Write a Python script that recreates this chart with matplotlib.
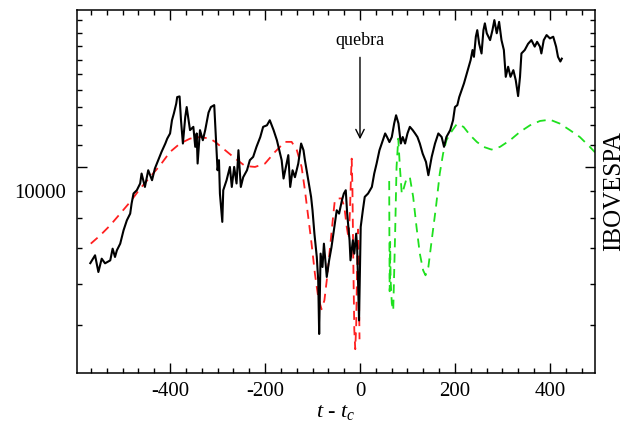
import matplotlib
matplotlib.use("Agg")
import matplotlib.pyplot as plt
import matplotlib.ticker as mticker
import matplotlib.transforms as mtransforms

plt.rcParams['font.family'] = ['Liberation Serif', 'DejaVu Serif']
plt.rcParams['mathtext.fontset'] = 'custom'
plt.rcParams['mathtext.rm'] = 'Liberation Serif'
plt.rcParams['mathtext.it'] = 'Liberation Serif:italic'

# IBOVESPA index vs t - tc
t_ibov = [-568, -558, -551, -544, -537, -526, -521, -516, -512, -505, -498, -491, -484, -481,
          -477, -470, -463, -460, -453, -446, -438, -432, -425, -418, -410, -406, -400, -396,
          -392, -387, -385, -380, -377, -373, -368, -365, -358, -351, -347, -344, -342, -337,
          -331, -326, -319, -314, -307, -304, -300, -297, -295, -290, -288, -281, -274, -270,
          -265, -260, -256, -251, -246, -238, -232, -225, -218, -210, -204, -196, -190, -182,
          -175, -170, -165, -161, -156, -151, -147, -142, -137, -130, -124, -119, -116, -109,
          -103, -100, -96, -91, -88, -86, -83, -79, -76, -70, -65, -60, -55, -49, -44, -38,
          -34, -30, -27, -22, -20, -15, -12, -8, -6, -2, 1.5, 6, 10, 17, 25, 30, 35, 41, 48,
          53, 57, 62, 67, 72, 76, 81, 86, 90, 95, 100, 105, 111, 116, 121, 126, 132, 139, 144,
          151, 158, 165, 172, 177, 182, 190, 196, 200, 205, 209, 214, 219, 223, 228, 233, 237,
          240, 244, 247, 251, 256, 260, 263, 267, 274, 279, 283, 288, 293, 298, 303, 307, 312,
          317, 323, 328, 333, 337, 340, 347, 354, 361, 368, 373, 379, 382, 387, 393, 400, 407,
          413, 417, 422, 425]
v_ibov = [6560, 6790, 6310, 6690, 6555, 6640, 6990, 6740, 6940, 7145, 7575, 7915, 8150, 8520,
          8900, 9030, 9300, 9715, 9160, 9856, 9434, 9930, 10300, 10680, 11080, 11320, 11580, 12270,
          12640, 13200, 13580, 13620, 12270, 11080, 12450, 13000, 11750, 11920, 10920, 11580, 10150, 11750,
          11240, 11750, 12690, 13000, 13110, 11580, 9856, 10300, 8890, 7860, 9030, 9434, 10000, 9160,
          10000, 9300, 10760, 9160, 9560, 9856, 10300, 10450, 10920, 11400, 11920, 12000, 12270, 11750,
          11240, 10760, 10300, 9505, 10000, 10530, 9160, 9856, 9560, 10150, 11080, 10760, 10300, 9434,
          8770, 8270, 7465, 6740, 6084, 4810, 6840, 6450, 7145, 6175, 6642, 7040, 7575, 8270, 8150, 8642,
          8900, 9030, 8150, 7251, 6642, 7251, 6840, 7465, 7040, 5104, 7690, 8270, 8770, 8900, 9160, 9715,
          10150, 10760, 11240,
          11580, 11400, 11150, 11400, 12100, 12540, 12100, 11080, 11400, 11080, 11580, 11920, 11750, 11580,
          11400, 11080, 10600, 10220, 9643,
          10450, 11080, 11580, 11400, 10920, 11400, 11750, 12270, 13000, 13110, 13580, 14000, 14420, 14840,
          15380, 15970, 16690,
          16200, 17700, 18210, 17150, 16440, 18210, 18760, 17960, 17430, 18210, 19030, 17960, 18880, 17430,
          16690, 14840, 15510,
          14840, 15280, 14630, 13640, 14840, 16440, 16690, 17150, 17430, 16940, 17300, 16940, 16440, 17430,
          17820, 17560, 17690,
          16940, 16200, 15870, 16070]

# log-periodic fit before the crash (red) and after (green)
t_fit_pre = [-567, -547, -526, -505, -484, -463, -442, -421, -400, -379, -358, -337, -316, -305,
             -284, -263, -242, -221, -200, -179, -158, -144, -133, -123, -116, -109, -102, -95,
             -88, -81, -75, -70, -63, -56, -53, -46, -39, -33, -28, -24, -21, -19, -17.5, -16,
             -14, -12, -10, -8, -6, -4, -3, -2, -1]
v_fit_pre = [7145, 7411, 7745, 8150, 8580, 9095, 9570, 10070, 10680, 11080, 11320, 11400, 11320,
             11160, 10760, 10380, 10040, 10000, 10150, 10680, 11160, 11160, 10760, 10000, 9030, 8030,
             7145, 6270, 5650, 5360, 5572, 6084, 7040, 8150, 8642, 8710, 8710, 8400, 7700, 7300,
             8300, 9600, 10370, 9200, 6500, 4900, 4500, 5000, 6500, 7600, 7000, 5600, 4700]
t_fit_post = [61.5, 62, 62.5, 63.5, 64.5, 67, 70, 74, 77, 80.6, 84, 88, 91, 98, 105, 112, 119, 126,
              133, 138, 144, 151, 160, 168, 175, 182, 190, 204, 218, 232, 246, 260, 277, 295, 316,
              337, 358, 379, 400, 421, 442, 463, 484, 495]
v_fit_post = [9400, 7000, 5800, 7200, 6100, 5500, 5330, 7465, 10000, 11320, 10000, 8890, 9030, 9505,
              9560, 8770, 7690, 6840, 6357, 6220, 6450, 7251, 8390, 9715, 10600, 11240, 11580, 12070,
              11920, 11490, 11160, 10920, 10790, 10920, 11240, 11660, 12000, 12230, 12300, 12090,
              11750, 11400, 10920, 10660]

y_minor = [5000, 6000, 7000, 8000, 9000, 11000, 12000, 13000, 14000, 15000,
           16000, 17000, 18000, 19000]

fig = plt.figure(figsize=(6.37, 4.23), dpi=100)
ax = fig.add_axes([0.1209, 0.119, 0.8132, 0.8566])

ax.plot(t_fit_pre, v_fit_pre, color='#ff1f1f', lw=1.3, dashes=(5, 3.5))
ax.plot(t_fit_post, v_fit_post, color='#1ee01e', lw=1.3, dashes=(5, 3.5))
ax.plot(t_ibov, v_ibov, color='black', lw=1.5)

ax.set_yscale('log')
ax.set_xlim(-596, 495)
ax.set_ylim(4060, 19860)

ax.xaxis.set_major_locator(mticker.MultipleLocator(200))
ax.xaxis.set_minor_locator(mticker.MultipleLocator(200 / 6))
ax.yaxis.set_major_locator(mticker.FixedLocator([10000]))
ax.yaxis.set_minor_locator(mticker.FixedLocator(y_minor))
ax.yaxis.set_major_formatter(mticker.FixedFormatter(['10000']))
ax.yaxis.set_minor_formatter(mticker.NullFormatter())
ax.xaxis.set_major_formatter(mticker.FuncFormatter(lambda v, p: '%d' % v))

ax.tick_params(which='both', direction='in', top=True, right=True, width=1.0)
ax.tick_params(which='major', length=7)
ax.tick_params(which='minor', length=3.5)
ax.tick_params(axis='x', labelsize=15, pad=7)
ax.tick_params(axis='y', labelsize=15, pad=8)
for s in ax.spines.values():
    s.set_linewidth(1.1)

# the original puts the 10000 label a bit below its tick
off = mtransforms.ScaledTranslation(0, -0.24, fig.dpi_scale_trans)
for lab in ax.yaxis.get_majorticklabels():
    lab.set_transform(lab.get_transform() + off)

ax.set_xlabel(r'$t$ - $t_c$', fontsize=16, labelpad=1)
ax.yaxis.set_label_position('right')
ax.set_ylabel('IBOVESPA', fontsize=18, labelpad=6)

ax.annotate('quebra', xy=(0, 11150), xytext=(0, 17400), ha='center', va='center', fontsize=13,
            arrowprops=dict(arrowstyle='->', color='black', lw=1.0, shrinkA=4,
                            mutation_scale=15))

fig.savefig('out.png', dpi=100)
